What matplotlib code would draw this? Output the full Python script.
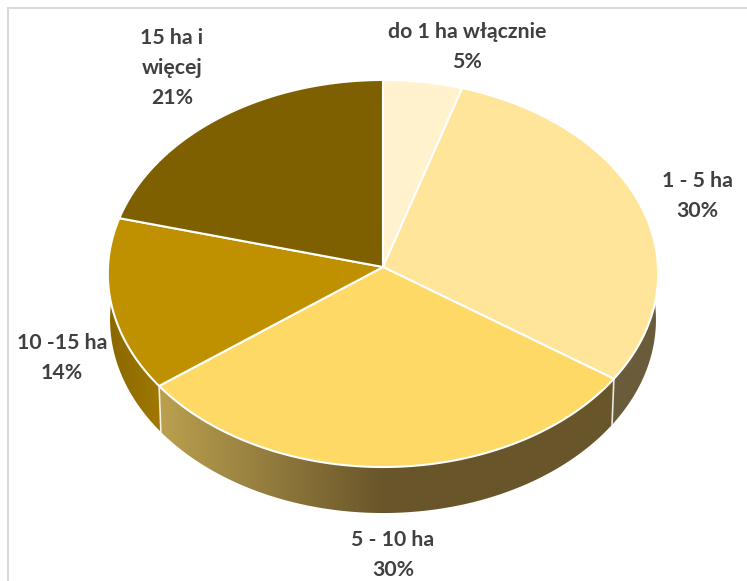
import numpy as np
import matplotlib
matplotlib.use("Agg")
import matplotlib.pyplot as plt
from matplotlib.colors import LinearSegmentedColormap
from matplotlib.patches import Polygon

categories = ["do 1 ha włącznie", "1 - 5 ha", "5 - 10 ha", "10 -15 ha", "15 ha i\nwięcej"]
values = [4.8, 29.8, 30.1, 14.4, 20.9]
top_colors = ["#FFF2CC", "#FFE599", "#FFD966", "#BF9000", "#7F6000"]
wall_colors = [("#6A5000", "#6A5000"), ("#6A5C3A", "#6A5C3A"), ("#BBA04F", "#68552A"),
               ("#8A6800", "#9F7800"), ("#6A5000", "#6A5000")]
# x range of the wall gradient of each slice
wall_ramps = [(0, 747), (0, 747), (160, 385), (108, 160), (0, 747)]

# pie geometry in pixels
CX, CY = 383, 267
A, B = 275, 193.3
K = 0.0336      # perspective
DEPTH = 46
SHRINK = 0.992


def rim(t, scale=1.0, drop=0):
    d = 1 + K * np.cos(t)
    return CX + scale * A * np.sin(t) / d, CY + drop - B * np.cos(t) / d


fig = plt.figure(figsize=(7.47, 5.81), dpi=100)
ax = fig.add_axes([0, 0, 1, 1])
ax.axis("off")

# chart frame
ax.plot([8, 8], [581, 8], color="#D9D9D9", lw=1.5)
ax.plot([8, 747], [8, 8], color="#D9D9D9", lw=1.5)

edges = np.radians(np.cumsum([0] + values) / sum(values) * 360)

# side wall, gradient clipped to each slice
for i in range(len(values)):
    t0, t1 = edges[i], edges[i + 1]
    # only the front part is seen
    t0 = max(t0, np.radians(70))
    t1 = min(t1, np.radians(290))
    if t1 <= t0:
        continue
    ts = np.linspace(t0, t1, 150)
    xa, ya = rim(ts)
    xb, yb = rim(ts, SHRINK, DEPTH)
    poly = Polygon(np.c_[np.r_[xa, xb[::-1]], np.r_[ya, yb[::-1]]], closed=True,
                   facecolor="none", edgecolor="none", transform=ax.transData)
    ax.add_patch(poly)
    cmap = LinearSegmentedColormap.from_list("w", wall_colors[i])
    x_lo, x_hi = wall_ramps[i]
    grad = np.linspace(0, 1, 256).reshape(1, -1)
    im = ax.imshow(grad, cmap=cmap, extent=[x_lo, x_hi, 581, 0], aspect="auto", zorder=2)
    # keep colour of the end of the ramp beyond its range
    ax.imshow(np.zeros((1, 2)) + 1, cmap=cmap, vmin=0, vmax=1, extent=[x_hi, 747, 581, 0],
              aspect="auto", zorder=2).set_clip_path(poly)
    ax.imshow(np.zeros((1, 2)), cmap=cmap, vmin=0, vmax=1, extent=[0, x_lo, 581, 0],
              aspect="auto", zorder=2).set_clip_path(poly)
    im.set_clip_path(poly)

# white seams on the wall
for t in edges[1:-1]:
    if np.cos(t) < 0:
        x0, y0 = rim(t)
        x1, y1 = rim(t, SHRINK, DEPTH)
        ax.plot([x0, x1], [y0, y1], color="white", lw=1.2, alpha=0.85, zorder=3)

# top face
for i in range(len(values)):
    ts = np.linspace(edges[i], edges[i + 1], 120)
    xs, ys = rim(ts)
    ax.fill(np.r_[CX, xs], np.r_[CY, ys], facecolor=top_colors[i], edgecolor="white",
            lw=1.5, joinstyle="round", zorder=4)

label_pos = [(467, 47), (697, 196), (393, 555), (62, 358), (172, 68)]
for cat, val, (x, y) in zip(categories, values, label_pos):
    ax.text(x, y, f"{cat}\n{val:.0f}%", ha="center", va="center", color="#404040",
            family="Lato", weight="bold", fontsize=15.3, linespacing=1.62, zorder=5)

ax.set_xlim(0, 747)
ax.set_ylim(581, 0)
plt.savefig("out.png", dpi=100)
